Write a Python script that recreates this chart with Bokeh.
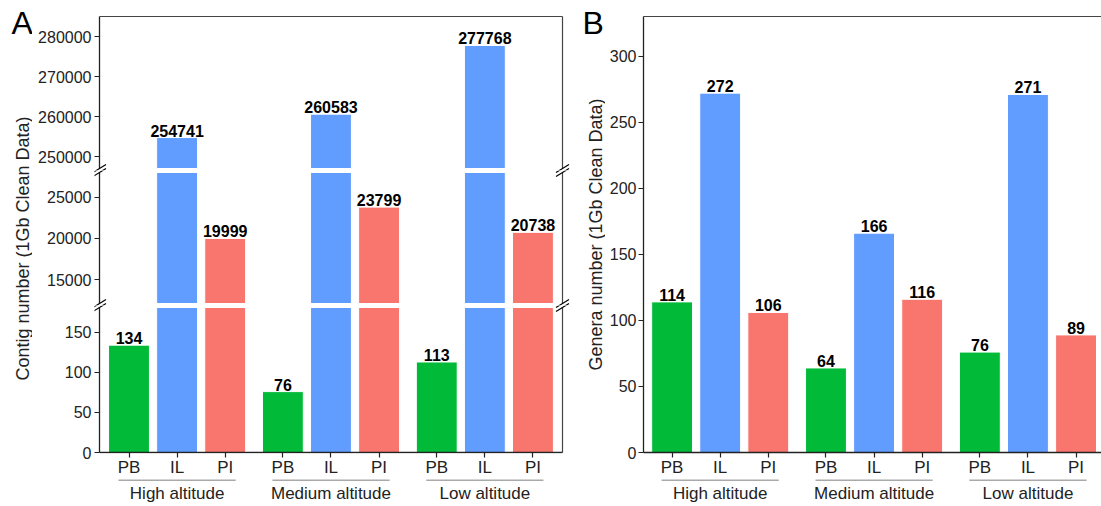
import numpy as np
from bokeh.plotting import figure
from bokeh.layouts import row, column
from bokeh.models import Range1d, FixedTicker, LinearAxis, PrintfTickFormatter
from bokeh.core.properties import value
from bokeh.embed import file_html
from bokeh.resources import INLINE

# ---------------- data ----------------
groups = ["High altitude", "Medium altitude", "Low altitude"]
samples = ["PB", "IL", "PI"]
contig_PB = [134, 76, 113]
contig_IL = [254741, 260583, 277768]
contig_PI = [19999, 23799, 20738]
genera_PB = [114, 64, 76]
genera_IL = [272, 166, 271]
genera_PI = [106, 116, 89]

contig_segments = [(247000, 285000), (12100, 28000), (0, 181)]
contig_ticks = [[250000, 260000, 270000, 280000], [15000, 20000, 25000], [0, 50, 100, 150]]
genera_range = (0, 330)
genera_ticks = [0, 50, 100, 150, 200, 250, 300]
ylabel_A = "Contig number (1Gb Clean Data)"
ylabel_B = "Genera number (1Gb Clean Data)"

# ---------------- style / layout ----------------
FONT = "Liberation Sans"
COLORS = {"PB": "#00BA38", "IL": "#619CFF", "PI": "#F8766D"}
AX = "#222222"
BORDER = "#444444"
BAR_STEP, GROUP_STEP, BAR_W = 5, 16, 4.25
TOTAL_H = 506
PPU = 9.618                 # pixels per x unit
FIRST_OFF = 29.5            # px from axis line to first bar centre

xs, cols, smp = [], [], []
for g in range(len(groups)):
    for i, s in enumerate(samples):
        xs.append(g * GROUP_STEP + i * BAR_STEP)
        cols.append(COLORS[s])
        smp.append(s)
xs = np.array(xs, dtype=float)
contig_vals = np.array([[contig_PB, contig_IL, contig_PI][i][g] for g in range(3) for i in range(3)], dtype=float)
genera_vals = np.array([[genera_PB, genera_IL, genera_PI][i][g] for g in range(3) for i in range(3)], dtype=float)
tick_labels = {int(x): s for x, s in zip(xs, smp)}
centers = np.array([g * GROUP_STEP + BAR_STEP for g in range(3)], dtype=float)

# panel A horizontal geometry: frame from px 94 to 570, axis line at 99, right border at 562
LAB_A_W = 32
A_FRAME_L, A_AXIS, A_RIGHT, A_FRAME_R = 94, 99, 562, 570
MBL_A = A_FRAME_L - LAB_A_W
FW_A = A_FRAME_R - A_FRAME_L
X_AXIS = -FIRST_OFF / PPU
X_RIGHT = X_AXIS + (A_RIGHT - A_AXIS) / PPU
xr_A = Range1d(X_AXIS - (A_AXIS - A_FRAME_L) / PPU, X_RIGHT + (A_FRAME_R - A_RIGHT) / PPU)
MBR_A = 572 - A_FRAME_R

# panel B geometry
LAB_B_W = 33
MBL_B = 38
FW_B = 1101 - 572 - LAB_B_W - MBL_B
xr_B = Range1d(-28.6 / PPU, -28.6 / PPU + FW_B / PPU)

AXIS_PANEL = 26
STRIP_H = 28


def base_fig(xr, yr, fw, fh, mbl, mbr, mbt, mbb):
    p = figure(x_range=xr, y_range=yr, frame_width=fw, frame_height=fh,
               min_border_left=mbl, min_border_right=mbr, min_border_top=mbt, min_border_bottom=mbb,
               x_axis_location=None, y_axis_location=None, toolbar_location=None,
               output_backend="svg")
    p.outline_line_color = None
    p.xgrid.grid_line_color = None
    p.ygrid.grid_line_color = None
    p.background_fill_color = "white"
    p.border_fill_color = "white"
    return p


def line_only_axis():
    return LinearAxis(ticker=FixedTicker(ticks=[]), major_tick_out=0, major_tick_in=0,
                      minor_tick_out=0, minor_tick_in=0, major_label_standoff=0,
                      major_label_text_font_size="0px", axis_line_color=BORDER,
                      axis_line_width=1.2)


def y_axis(ticks, tick_in=0, tick_out=5, show_line=True, standoff=2):
    return LinearAxis(ticker=FixedTicker(ticks=ticks), formatter=PrintfTickFormatter(format="%d"),
                      major_tick_out=tick_out, major_tick_in=tick_in, major_tick_line_color=AX,
                      major_tick_line_width=1.2, axis_line_color=AX if show_line else None,
                      axis_line_width=1.3, major_label_text_font=FONT,
                      major_label_text_font_size="16px", major_label_text_color=AX,
                      major_label_standoff=standoff)


def x_axis(tick_in=0, tick_out=5, show_line=True):
    return LinearAxis(ticker=FixedTicker(ticks=[int(x) for x in xs]), major_label_overrides=tick_labels,
                      major_tick_out=tick_out, major_tick_in=tick_in, major_tick_line_color=AX,
                      major_tick_line_width=1.2, axis_line_color=AX if show_line else None,
                      axis_line_width=1.3, major_label_text_font=FONT,
                      major_label_text_font_size="17px", major_label_text_color=AX,
                      major_label_standoff=0)


def bars(p, vals, lo, hi, base):
    m = vals > lo
    p.vbar(x=xs[m], width=BAR_W, bottom=base, top=np.minimum(vals[m], hi),
           fill_color=[c for c, k in zip(cols, m) if k], line_color="white", line_width=1)
    lm = (vals > lo) & (vals <= hi)
    p.text(x=xs[lm], y=vals[lm], text=[str(int(v)) for v in vals[lm]], text_align="center",
           text_baseline="alphabetic", y_offset=-7, text_font=value(FONT), text_font_style="bold",
           text_font_size="16px", text_color="black")


def segment_fig(lo, hi, seg_px, pad_top, pad_bot, ticks, mbt, mbb, first, last):
    upp = (hi - lo) / seg_px
    yr = Range1d(lo - pad_bot * upp, hi + pad_top * upp)
    p = base_fig(xr_A, yr, FW_A, seg_px + pad_top + pad_bot, MBL_A, MBR_A, mbt, mbb)
    # left axis: tick labels + inward ticks (axis line drawn as glyph at A_AXIS)
    p.add_layout(y_axis(ticks, tick_in=A_AXIS - A_FRAME_L, tick_out=0, show_line=False, standoff=3), "left")
    base = 0 if last else lo
    bars(p, contig_vals, -1 if last else lo, hi, base)
    # spines
    p.segment(x0=[X_AXIS, X_RIGHT], x1=[X_AXIS, X_RIGHT], y0=[lo, lo], y1=[hi, hi],
              line_color=[AX, BORDER], line_width=[1.3, 1.2])
    if first:
        p.segment(x0=[X_AXIS], x1=[X_RIGHT], y0=[hi], y1=[hi], line_color=BORDER, line_width=1.2)
    if last:
        p.segment(x0=[X_AXIS], x1=[X_RIGHT], y0=[lo], y1=[lo], line_color=AX, line_width=1.3)
        p.add_layout(x_axis(tick_in=1, tick_out=4, show_line=False), "below")
    # break marks ("//") at the segment boundaries, 4 px gap between segments
    gap, dx, dy = 4, 6.5 / PPU, 4 * upp
    centres = []
    if not first:
        centres += [hi, hi + gap * upp]
    if not last:
        centres += [lo, lo - gap * upp]
    if centres:
        x0, x1, y0, y1 = [], [], [], []
        for yc in centres:
            for xc in (X_AXIS, X_RIGHT):
                x0.append(xc - dx); x1.append(xc + dx)
                y0.append(yc - dy); y1.append(yc + dy)
        p.segment(x0=x0, x1=x1, y0=y0, y1=y1, line_color="black", line_width=1.2)
    return p


def strip(xr, fw, mbl, mbr):
    s = base_fig(xr, Range1d(0, STRIP_H), fw, STRIP_H, mbl, mbr, 0, 0)
    ext = 10.5 / PPU
    s.segment(x0=centers - BAR_STEP - ext, x1=centers + BAR_STEP + ext,
              y0=STRIP_H - 0.5, y1=STRIP_H - 0.5, line_color="#555555", line_width=1)
    s.text(x=centers, y=14, text=groups, text_align="center", text_baseline="middle",
           text_font=value(FONT), text_font_size="17px", text_color=AX)
    return s


def label_fig(w, letter, lx, label, lab_x, yc_img):
    f = base_fig(Range1d(0, w), Range1d(0, TOTAL_H), w, TOTAL_H, 0, 0, 0, 0)
    f.text(x=[lx], y=[TOTAL_H - 22], text=[letter], text_align="left", text_baseline="middle",
           text_font=value(FONT), text_font_size="32px", text_color="black")
    f.text(x=[lab_x], y=[TOTAL_H - yc_img], text=[label], angle=np.pi / 2,
           text_align="center", text_baseline="middle", text_font=value(FONT),
           text_font_size="18px", text_color=AX)
    return f


# ---------------- panel A ----------------
(t_lo, t_hi), (m_lo, m_hi), (b_lo, b_hi) = contig_segments
topA = segment_fig(t_lo, t_hi, 152, 2, 2, contig_ticks[0], 14, 0, True, False)
midA = segment_fig(m_lo, m_hi, 131, 2, 2, contig_ticks[1], 0, 0, False, False)
botA = segment_fig(b_lo, b_hi, 145, 2, 1, contig_ticks[2], 0, AXIS_PANEL - 1, False, True)
stripA = strip(xr_A, FW_A, MBL_A, MBR_A)
labA = label_fig(LAB_A_W, "A", 11, ylabel_A, 22, 248)

# ---------------- panel B ----------------
FH_B = TOTAL_H - 16 - AXIS_PANEL - STRIP_H
figB = base_fig(xr_B, Range1d(*genera_range), FW_B, FH_B, MBL_B, 0, 16, AXIS_PANEL)
figB.add_layout(y_axis(genera_ticks), "left")
figB.add_layout(line_only_axis(), "above")
figB.add_layout(x_axis(), "below")
bars(figB, genera_vals, -1, genera_range[1], 0)
stripB = strip(xr_B, FW_B, MBL_B, 0)
labB = label_fig(LAB_B_W, "B", 10, ylabel_B, 23, 234)

layout = row(labA, column(topA, midA, botA, stripA), labB, column(figB, stripB))

open("out.html", "w").write(file_html(layout, INLINE))
